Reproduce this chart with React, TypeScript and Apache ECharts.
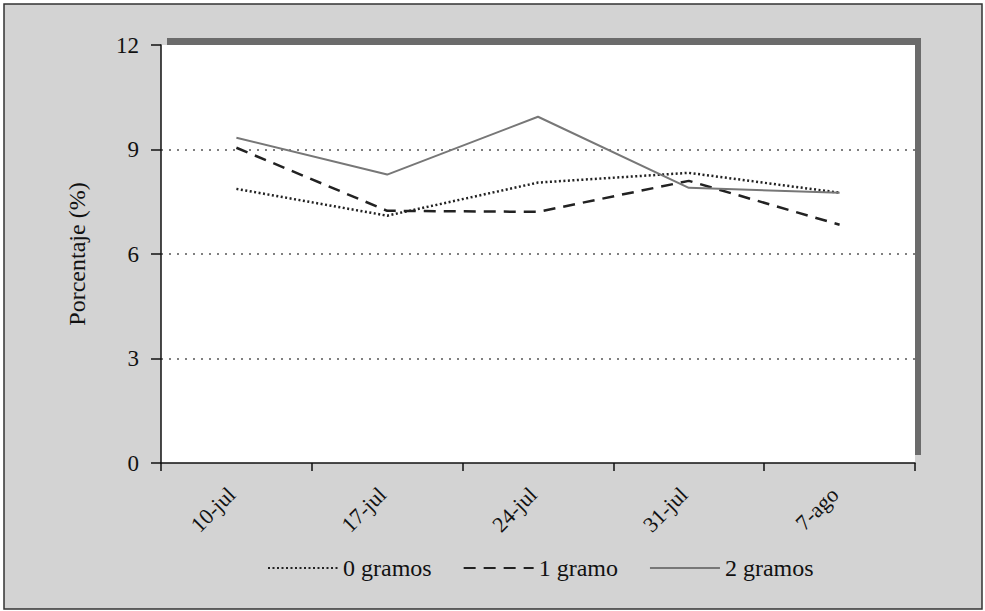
import React, { useEffect, useRef } from "react";
import * as echarts from "echarts";

const categories = ["10-jul", "17-jul", "24-jul", "31-jul", "7-ago"];
const seriesNames = ["0 gramos", "1 gramo", "2 gramos"];
const gramos0 = [7.87, 7.1, 8.05, 8.33, 7.76];
const gramos1 = [9.05, 7.24, 7.21, 8.1, 6.84];
const gramos2 = [9.34, 8.28, 9.94, 7.9, 7.76];
const yTicks = { min: 0, max: 12, interval: 3 };

const FONT = "Liberation Serif";

export default function App() {
  const ref = useRef<HTMLDivElement>(null);
  useEffect(() => {
    if (!ref.current) return;
    const chart = echarts.init(ref.current, undefined, { renderer: "svg" });
    const gridL = 161, gridT = 45, gridR = 915, gridB = 463;
    chart.setOption({
      animation: false,
      backgroundColor: "#ffffff",
      textStyle: { fontFamily: FONT, fontSize: 23 },
      graphic: [
        {
          type: "rect",
          z: -10,
          shape: { x: 4, y: 4, width: 978, height: 605 },
          style: { fill: "#d3d3d3", stroke: "#333", lineWidth: 1.5 },
        },
        {
          type: "rect",
          z: -9,
          shape: { x: gridL + 6, y: gridT - 7, width: gridR - gridL, height: gridB - gridT - 1 },
          style: { fill: "#6b6b6b" },
        },
        {
          type: "rect",
          z: -8,
          shape: { x: gridL, y: gridT, width: gridR - gridL, height: gridB - gridT },
          style: { fill: "#ffffff" },
        },
      ],
      grid: { left: gridL, top: gridT, right: 985 - gridR, bottom: 611 - gridB, containLabel: false },
      legend: {
        top: 551,
        left: 262,
        itemWidth: 70,
        itemHeight: 14,
        itemGap: 31,
        itemStyle: { opacity: 0 },
        textStyle: { fontFamily: FONT, fontSize: 24, color: "#111" },
        data: seriesNames,
      },
      xAxis: {
        type: "category",
        data: categories,
        boundaryGap: true,
        axisLine: { lineStyle: { color: "#111", width: 1.5 } },
        axisTick: { show: true, length: 8, lineStyle: { color: "#111", width: 1.5 } },
        axisLabel: {
          rotate: 45,
          margin: 23,
          padding: [0, 7, 0, 0],
          fontFamily: FONT,
          fontSize: 22,
          color: "#111",
        },
        splitLine: { show: false },
      },
      yAxis: {
        type: "value",
        min: yTicks.min,
        max: yTicks.max,
        interval: yTicks.interval,
        name: "Porcentaje (%)",
        nameLocation: "middle",
        nameRotate: 90,
        nameGap: 72,
        nameTextStyle: { fontFamily: FONT, fontSize: 24, color: "#111" },
        axisLine: { show: true, lineStyle: { color: "#111", width: 1.5 } },
        axisTick: { show: true, length: 10, lineStyle: { color: "#111", width: 1.5 } },
        axisLabel: { margin: 22, fontFamily: FONT, fontSize: 23, color: "#111" },
        splitLine: {
          show: true,
          lineStyle: {
            color: ["rgba(0,0,0,0)", "#555", "#555", "#555", "rgba(0,0,0,0)"],
            type: [2, 6],
            width: 1.5,
          },
        },
      },
      series: [
        {
          name: seriesNames[0],
          type: "line",
          data: gramos0,
          symbol: "none",
          lineStyle: { color: "#222", width: 2.5, type: [2, 2.5] },
          itemStyle: { color: "#222" },
        },
        {
          name: seriesNames[1],
          type: "line",
          data: gramos1,
          symbol: "none",
          lineStyle: { color: "#222", width: 2.5, type: [12, 8] },
          itemStyle: { color: "#222" },
        },
        {
          name: seriesNames[2],
          type: "line",
          data: gramos2,
          symbol: "none",
          lineStyle: { color: "#777", width: 2 },
          itemStyle: { color: "#777" },
        },
      ],
    });
    return () => chart.dispose();
  }, []);
  return (
    <div
      ref={ref}
      style={{ position: "absolute", left: 0, top: 0, width: 985, height: 611 }}
    />
  );
}
